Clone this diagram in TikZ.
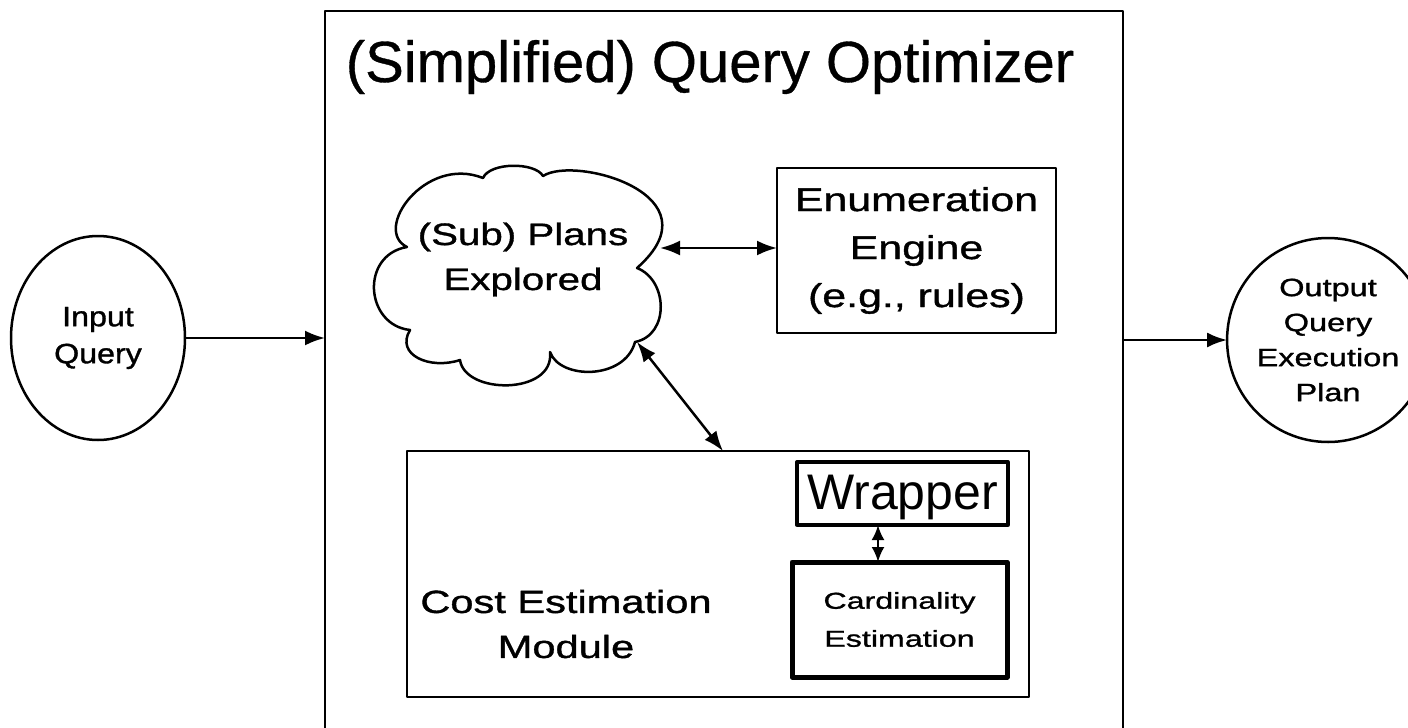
\documentclass[tikz,border=0pt]{standalone}
\usepackage{fontspec}
\setmainfont{Liberation Sans}
\newfontfamily\ftitle[FakeBold=0.6]{Liberation Sans}
\newfontfamily\fbody[FakeStretch=1.3,FakeBold=1.2]{Liberation Sans}
\newfontfamily\fin[FakeStretch=1.15,FakeBold=1.2]{Liberation Sans}
\newfontfamily\fcard[FakeStretch=1.4,FakeBold=1.2]{Liberation Sans}
\usetikzlibrary{arrows.meta,shapes.geometric}
\begin{document}
\begin{tikzpicture}[x=1pt,y=-1pt, line join=round,
  every node/.style={inner sep=0pt, outer sep=0pt},
  ln/.style={line width=2.5pt},
  tip/.tip={Latex[length=20pt,width=15pt]},
  smalltip/.tip={Latex[length=15pt,width=13pt]},
  arr/.style={ln, -tip},
  darr/.style={ln, tip-tip},
  sdarr/.style={ln, smalltip-smalltip},
  boxst/.style={draw, line width=2.5pt, rectangle, align=center},
  ell/.style={draw, line width=2.5pt, ellipse, align=center},
]
\useasboundingbox (0,0) rectangle (1408,728);

% main optimizer frame (open at the bottom)
\node[minimum width=798pt, minimum height=740pt] (main) at (724,381) {};
\draw[ln] (main.south west) -- (main.north west) -- (main.north east) -- (main.south east);
\node[anchor=base, font=\ftitle\fontsize{58}{60}\selectfont] (title) at (710,82) {(Simplified) Query Optimizer};

% input / output
\node[ell, minimum width=174pt, minimum height=204pt, font=\fin\fontsize{28}{37}\selectfont] (inq) at (98,338) {Input\\Query};
\node[ell, minimum width=164pt, minimum height=204pt, font=\fbody\fontsize{25}{35}\selectfont] (outq) at (1328,340) {Output\\Query\\Execution\\Plan};

% cloud
\draw[ln] (410,330) .. controls (365,325) and (360,255) .. (407,247)
  .. controls (372,230) and (425,155) .. (483,178)
  .. controls (490,162) and (535,162) .. (543,176)
  .. controls (575,155) and (720,195) .. (637,268)
  .. controls (668,280) and (670,335) .. (635,342)
  .. controls (625,380) and (560,380) .. (550,352)
  .. controls (555,395) and (465,395) .. (460,360)
  .. controls (430,370) and (395,355) .. (410,330) -- cycle;
\node[align=center, font=\fbody\fontsize{31}{45}\selectfont] (plans) at (523,259.5) {(Sub) Plans\\Explored};
\coordinate (cE) at (660,248);
\coordinate (cS) at (637,342);

% enumeration engine
\node[boxst, minimum width=279pt, minimum height=165pt, font=\fbody\fontsize{33}{48}\selectfont] (enum) at (916.5,250.5) {Enumeration\\Engine\\(e.g., rules)};

% cost estimation module
\node[boxst, minimum width=622pt, minimum height=246pt] (cost) at (718,574) {};
\node[align=center, font=\fbody\fontsize{32}{45}\selectfont] (costtxt) at (566,624) {Cost Estimation\\Module};
\node[boxst, line width=3.3pt, minimum width=211pt, minimum height=63pt] (wrap) at (902.5,493.5) {};
\node[anchor=base, font=\fontsize{50}{54}\selectfont] (wraptxt) at (902.5,509) {Wrapper};
\node[boxst, line width=5pt, minimum width=215pt, minimum height=115pt, font=\fcard\fontsize{23}{38}\selectfont] (card) at (899.5,619.5) {Cardinality\\Estimation};

% connectors
\draw[arr] (inq.east) -- (inq.east -| main.west);
\draw[arr] (main.east |- outq.west) -- (outq.west);
\draw[darr] (cE) -- (cE -| enum.west);
\draw[darr] (cS) -- (cost.north -| 723,0);
\draw[sdarr] (wrap.south -| 878,0) -- (card.north -| 878,0);
\end{tikzpicture}
\end{document}
